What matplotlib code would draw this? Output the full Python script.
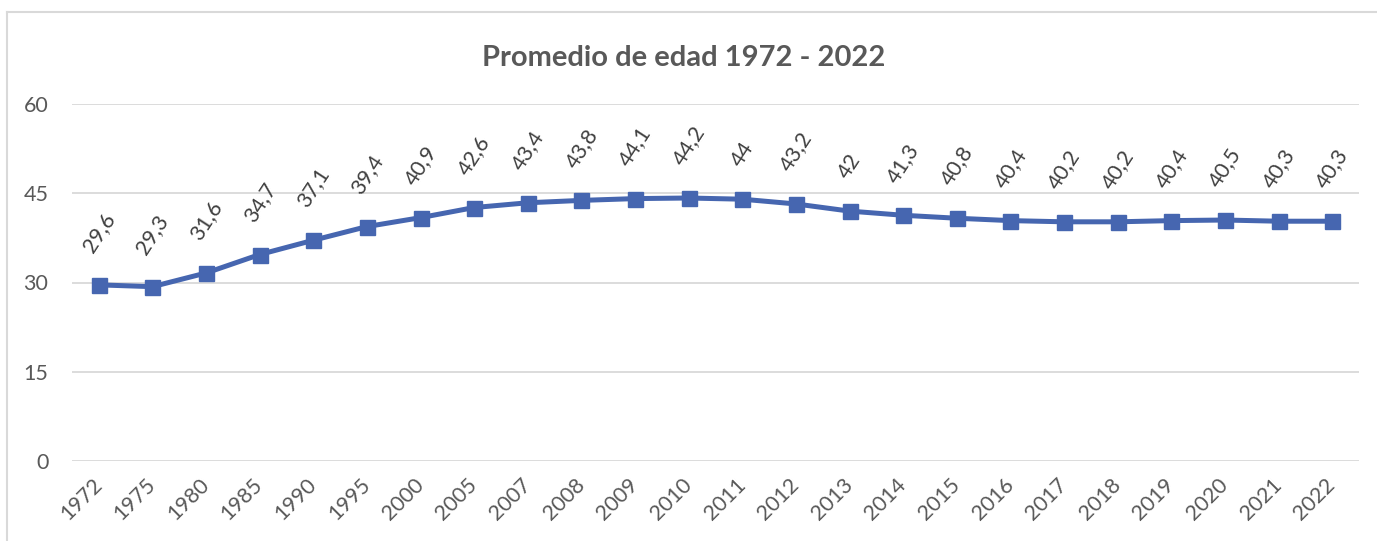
import matplotlib
matplotlib.use("Agg")
import matplotlib.pyplot as plt
from matplotlib.lines import Line2D

# datos
years = ["1972", "1975", "1980", "1985", "1990", "1995", "2000", "2005", "2007", "2008",
         "2009", "2010", "2011", "2012", "2013", "2014", "2015", "2016", "2017", "2018",
         "2019", "2020", "2021", "2022"]
ages = [29.6, 29.3, 31.6, 34.7, 37.1, 39.4, 40.9, 42.6, 43.4, 43.8,
        44.1, 44.2, 44.0, 43.2, 42.0, 41.3, 40.8, 40.4, 40.2, 40.2,
        40.4, 40.5, 40.3, 40.3]
yticks = [0, 15, 30, 45, 60]
title = "Promedio de edad 1972 - 2022"

plt.rcParams["font.family"] = ["Lato", "DejaVu Sans"]
gray = "#595959"
blue = "#4666B0"

W, H = 1377, 541
fig = plt.figure(figsize=(W / 100, H / 100), dpi=100)
ax = fig.add_axes([72 / W, 1 - 461 / H, (1359 - 72) / W, (461 - 104) / H])

x = list(range(len(years)))
ax.plot(x, ages, color=blue, lw=3.6, marker="s", markersize=10.8, zorder=3)

# etiquetas de datos
for xi, v in zip(x, ages):
    txt = f"{v:g}".replace(".", ",")
    ax.annotate(txt, (xi, v), xytext=(0, 21), textcoords="offset points",
                ha="center", va="bottom", rotation=57, fontsize=15.5, color="#404040")

ax.set_xlim(-0.5, len(years) - 0.5)
ax.set_ylim(0, 60)
ax.set_yticks(yticks)
ax.set_yticklabels([str(t) for t in yticks], fontsize=15.5, color=gray)
ax.set_xticks(x)
ax.set_xticklabels(years, fontsize=15.5, color=gray, rotation=45,
                   ha="right", va="center", rotation_mode="anchor")
ax.tick_params(axis="both", length=0)
ax.tick_params(axis="x", pad=15)
ax.tick_params(axis="y", pad=17)
ax.grid(axis="y", color="#d9d9d9", lw=1.3)
ax.set_axisbelow(True)
for s in ax.spines.values():
    s.set_visible(False)

fig.text(684 / W, 1 - 58 / H, title, ha="center", va="center",
         fontsize=21, fontweight="bold", color=gray)

# borde del area del grafico
fig.add_artist(Line2D([7 / W, 1], [1 - 12 / H, 1 - 12 / H], color="#d9d9d9", lw=1.5))
fig.add_artist(Line2D([7 / W, 7 / W], [0, 1 - 12 / H], color="#d9d9d9", lw=1.5))

fig.savefig("out.png", dpi=100)
